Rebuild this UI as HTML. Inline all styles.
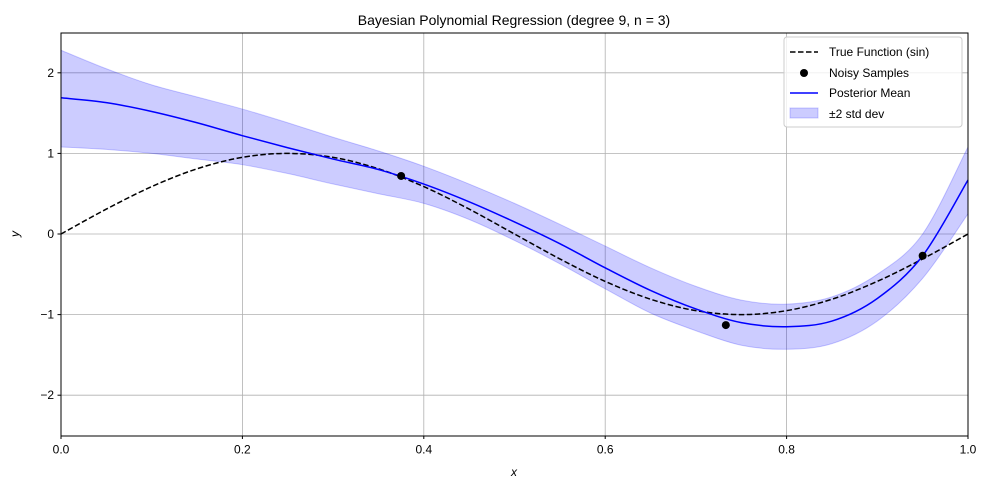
<!DOCTYPE html>
<html><head><meta charset="utf-8"><style>
body{margin:0;background:#fff;}
svg text{font-family:"Liberation Sans","DejaVu Sans",sans-serif;}
</style></head><body>
<svg id="chart" width="989" height="490" xmlns="http://www.w3.org/2000/svg">
<rect width="989" height="490" fill="#fff"/>
<text x="514" y="25" font-size="14" text-anchor="middle">Bayesian Polynomial Regression (degree 9, n = 3)</text>
<g id="grid"></g>
<g id="band"></g>
<g id="lines"></g>
<g id="axes"></g>
<rect x="61" y="33" width="907" height="403" fill="none" stroke="#000" stroke-width="1"/>
<text x="514" y="476" font-size="12" text-anchor="middle" font-style="italic">x</text>
<text x="19" y="234" font-size="12" text-anchor="middle" font-style="italic" transform="rotate(-90 19 234)">y</text>
<g>
<rect x="784" y="37" width="178" height="90" rx="3" fill="#fff" fill-opacity="0.8" stroke="#ccc"/>
<g><line x1="790" y1="52" x2="818" y2="52" stroke="#000" stroke-width="1.5" stroke-dasharray="5.5,2.5"/><text x="829" y="56" font-size="12">True Function (sin)</text></g>
<g><circle cx="804" cy="73" r="4" fill="#000"/><text x="829" y="77" font-size="12">Noisy Samples</text></g>
<g><line x1="790" y1="93" x2="818" y2="93" stroke="#00f" stroke-width="1.5"/><text x="829" y="97" font-size="12">Posterior Mean</text></g>
<g><rect x="790" y="108" width="28" height="10" fill="#00f" fill-opacity="0.2" stroke="#00f" stroke-opacity="0.2"/><text x="829" y="118" font-size="12">±2 std dev</text></g>
</g>
</svg>
<script>
const xs=[0,.05,.1,.15,.2,.25,.3,.35,.4,.45,.5,.55,.6,.65,.7,.75,.8,.85,.9,.95,1];
const trueY=[0,.309,.588,.809,.951,1,.951,.809,.588,.309,0,-.309,-.588,-.809,-.951,-1,-.951,-.809,-.588,-.309,0];
const meanY=[1.69,1.63,1.52,1.38,1.22,1.07,0.93,0.80,0.62,0.40,0.15,-0.12,-0.42,-0.70,-0.93,-1.10,-1.15,-1.08,-0.80,-0.27,0.67];
const upperY=[2.28,2.05,1.85,1.70,1.55,1.38,1.20,1.03,0.84,0.62,0.38,0.12,-0.15,-0.42,-0.65,-0.82,-0.87,-0.78,-0.50,0.0,1.08];
const lowerY=[1.08,1.05,1.00,0.93,0.86,0.75,0.62,0.50,0.38,0.18,-0.08,-0.37,-0.68,-0.98,-1.20,-1.38,-1.43,-1.36,-1.08,-0.55,0.25];
const sampleX=[0.375,0.733,0.95];
const sampleY=[0.72,-1.13,-0.27];
const xTicks=[0,0.2,0.4,0.6,0.8,1.0];
const xTickLabels=["0.0","0.2","0.4","0.6","0.8","1.0"];
const yTicks=[-2,-1,0,1,2];
const yTickLabels=["−2","−1","0","1","2"];
const X0=61,X1=968,Y0=435.5,Y1=32.5,YMIN=-2.5,YMAX=2.5;
const sx=v=>X0+(v-0)*(X1-X0);
const sy=v=>Y0-(v-YMIN)/(YMAX-YMIN)*(Y0-Y1);
const NS="http://www.w3.org/2000/svg";
function mk(tag,parent,attrs){const e=document.createElementNS(NS,tag);for(const k in attrs)e.setAttribute(k,attrs[k]);parent.appendChild(e);return e;}
function smooth(px,py){let d="M"+px[0]+","+py[0];for(let i=0;i<px.length-1;i++){const x0=px[Math.max(i-1,0)],y0=py[Math.max(i-1,0)],x3=px[Math.min(i+2,px.length-1)],y3=py[Math.min(i+2,px.length-1)];const c1x=px[i]+(px[i+1]-x0)/6,c1y=py[i]+(py[i+1]-y0)/6,c2x=px[i+1]-(x3-px[i])/6,c2y=py[i+1]-(y3-py[i])/6;d+=" C"+c1x+","+c1y+" "+c2x+","+c2y+" "+px[i+1]+","+py[i+1];}return d;}
const grid=document.getElementById('grid'),axes=document.getElementById('axes');
xTicks.forEach((t,i)=>{
 const g=mk('line',grid,{x1:sx(t),x2:sx(t),y1:Y1,y2:Y0,stroke:'#b0b0b0','stroke-width':0.8});
 
 
 const tk=mk('line',axes,{x1:sx(t),x2:sx(t),y1:Y0,y2:Y0+3.5,stroke:'#000'});
 
 
 const tx=mk('text',axes,{x:sx(t),y:Y0+18,'font-size':12,'text-anchor':'middle'});tx.textContent=xTickLabels[i];
 
 
});
yTicks.forEach((t,i)=>{
 const g=mk('line',grid,{x1:X0,x2:X1,y1:sy(t),y2:sy(t),stroke:'#b0b0b0','stroke-width':0.8});
 
 
 const tk=mk('line',axes,{x1:X0-3.5,x2:X0,y1:sy(t),y2:sy(t),stroke:'#000'});
 
 
 const tx=mk('text',axes,{x:X0-7,y:sy(t)+4,'font-size':12,'text-anchor':'end'});tx.textContent=yTickLabels[i];
 
 
});
const px=xs.map(sx);
const up=smooth(px,upperY.map(sy));
const lo=smooth(px.slice().reverse(),lowerY.map(sy).reverse());
const band=mk('path',document.getElementById('band'),{d:up+" L"+lo.slice(1)+" Z",fill:'#00f','fill-opacity':0.2,stroke:'#00f','stroke-opacity':0.2});


const L=document.getElementById('lines');
const tl=mk('path',L,{d:smooth(px,trueY.map(sy)),fill:'none',stroke:'#000','stroke-width':1.5,'stroke-dasharray':'5.5,2.5'});


const ml=mk('path',L,{d:smooth(px,meanY.map(sy)),fill:'none',stroke:'#00f','stroke-width':1.5});


sampleX.forEach((v,i)=>{
 const c=mk('circle',L,{cx:sx(v),cy:sy(sampleY[i]),r:4,fill:'#000'});
 
 
});
</script>
</body></html>
